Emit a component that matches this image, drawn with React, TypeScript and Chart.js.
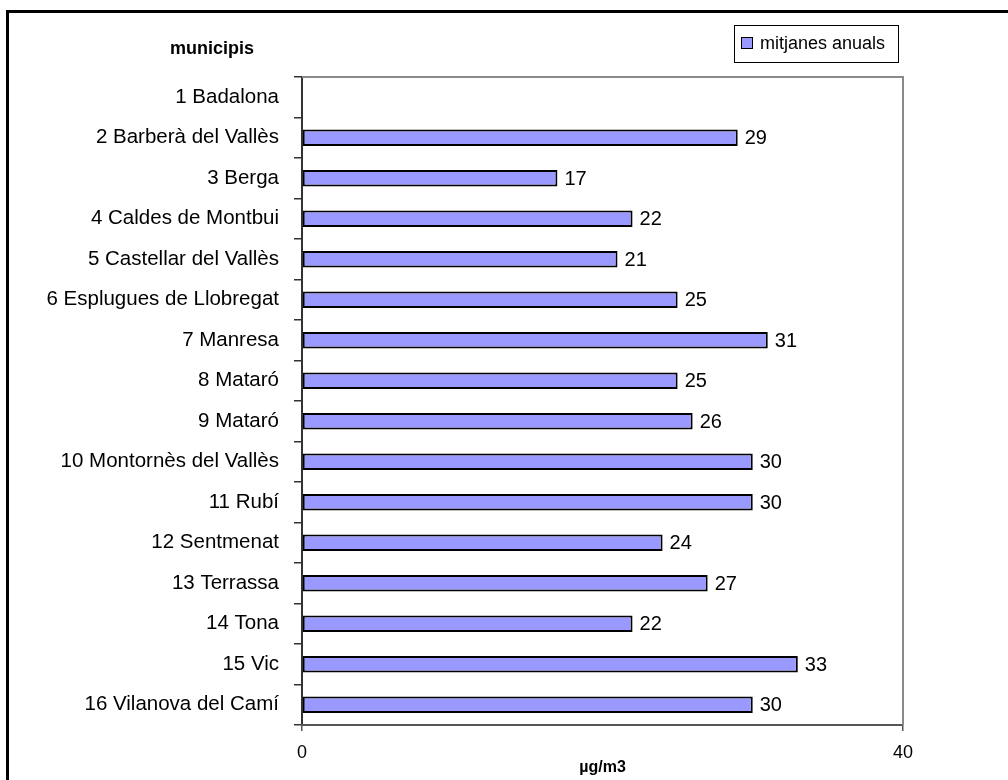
import React, { useEffect, useRef } from "react";
import { Chart, registerables } from "chart.js";

Chart.register(...registerables);

const categories: string[] = [
  "1 Badalona",
  "2 Barberà del Vallès",
  "3 Berga",
  "4 Caldes de Montbui",
  "5 Castellar del Vallès",
  "6 Esplugues de Llobregat",
  "7 Manresa",
  "8 Mataró",
  "9 Mataró",
  "10 Montornès del Vallès",
  "11 Rubí",
  "12 Sentmenat",
  "13 Terrassa",
  "14 Tona",
  "15 Vic",
  "16 Vilanova del Camí",
];

const annualMeans: (number | null)[] = [
  null, 29, 17, 22, 21, 25, 31, 25, 26, 30, 30, 24, 27, 22, 33, 30,
];

const xTicks: number[] = [0, 40];
const seriesLabel = "mitjanes anuals";
const yTitle = "municipis";
const xTitle = "µg/m3";

const FONT = "'Liberation Sans', Arial, sans-serif";
const BAR_COLOR = "#9999FF";

const extrasPlugin = {
  id: "extras",
  beforeDatasetsDraw(chart: any) {
    const { ctx, chartArea } = chart;
    ctx.save();
    ctx.strokeStyle = "#8a8a8a";
    ctx.lineWidth = 2;
    ctx.beginPath();
    ctx.moveTo(chartArea.left, chartArea.top);
    ctx.lineTo(chartArea.right, chartArea.top);
    ctx.lineTo(chartArea.right, chartArea.bottom);
    ctx.stroke();
    ctx.restore();
  },
  afterDatasetsDraw(chart: any) {
    const { ctx } = chart;
    const meta = chart.getDatasetMeta(0);
    ctx.save();
    ctx.fillStyle = "#000";
    ctx.font = `20px ${FONT}`;
    ctx.textAlign = "left";
    ctx.textBaseline = "middle";
    meta.data.forEach((bar: any, i: number) => {
      const v = annualMeans[i];
      if (v === null || v === undefined) return;
      ctx.fillText(String(v), bar.x + 7, bar.y + 1);
    });
    ctx.restore();
  },
  afterDraw(chart: any) {
    const { ctx } = chart;
    ctx.save();
    ctx.fillStyle = "#000";
    ctx.font = `bold 18px ${FONT}`;
    ctx.textAlign = "center";
    ctx.textBaseline = "middle";
    ctx.fillText(yTitle, 212, 49);
    ctx.strokeStyle = "#000";
    ctx.lineWidth = 1;
    ctx.fillStyle = "#fff";
    ctx.fillRect(734.5, 25.5, 164, 37);
    ctx.strokeRect(734.5, 25.5, 164, 37);
    ctx.fillStyle = BAR_COLOR;
    ctx.fillRect(741.5, 37.5, 11, 11);
    ctx.strokeRect(741.5, 37.5, 11, 11);
    ctx.fillStyle = "#000";
    ctx.font = `18px ${FONT}`;
    ctx.textAlign = "left";
    ctx.fillText(seriesLabel, 760, 44);
    ctx.restore();
  },
};

export default function App() {
  const canvasRef = useRef<HTMLCanvasElement | null>(null);

  useEffect(() => {
    if (!canvasRef.current) return;
    const chart = new Chart(canvasRef.current, {
      type: "bar",
      data: {
        labels: categories,
        datasets: [
          {
            label: seriesLabel,
            data: annualMeans,
            backgroundColor: BAR_COLOR,
            borderColor: "#000",
            borderWidth: 2,
            borderSkipped: false,
            barPercentage: 0.8,
            categoryPercentage: 0.51,
          },
        ],
      },
      options: {
        indexAxis: "y",
        responsive: false,
        animation: false,
        maintainAspectRatio: false,
        layout: { padding: { left: 0, right: 105, top: 77, bottom: 0 } },
        plugins: {
          legend: { display: false },
          tooltip: { enabled: false },
          title: { display: false },
        },
        scales: {
          y: {
            type: "category",
            offset: true,
            grid: {
              display: true,
              drawOnChartArea: false,
              offset: true,
              tickLength: 8,
              color: "#333",
              lineWidth: 1.5,
            },
            border: { display: true, color: "#333", width: 2 },
            ticks: {
              color: "#000",
              font: { family: FONT, size: 20.5 },
              padding: 15,
              autoSkip: false,
            },
            afterFit(scale: any) {
              scale.width = 302;
            },
          },
          x: {
            type: "linear",
            min: xTicks[0],
            max: xTicks[xTicks.length - 1],
            afterBuildTicks(scale: any) {
              scale.ticks = xTicks.map((v) => ({ value: v }));
            },
            grid: {
              display: true,
              drawOnChartArea: false,
              tickLength: 6,
              color: "#555",
              lineWidth: 1.5,
            },
            border: { display: true, color: "#555", width: 2 },
            ticks: {
              color: "#000",
              font: { family: FONT, size: 18 },
              padding: 11,
            },
            title: {
              display: true,
              text: xTitle,
              color: "#000",
              font: { family: FONT, size: 16, weight: "bold" },
              padding: { top: 0, bottom: 3 },
            },
            afterFit(scale: any) {
              scale.height = 55;
            },
          },
        },
      },
      plugins: [extrasPlugin],
    } as any);
    return () => chart.destroy();
  }, []);

  return (
    <div
      style={{
        position: "fixed",
        left: 0,
        top: 0,
        width: 1008,
        height: 780,
        overflow: "hidden",
        background: "#fff",
      }}
    >
      <canvas
        ref={canvasRef}
        width={1008}
        height={780}
        style={{ position: "absolute", left: 0, top: 0, width: 1008, height: 780 }}
      />
      <div
        style={{
          position: "absolute",
          left: 6,
          top: 10,
          width: 1100,
          height: 900,
          border: "3px solid #000",
          pointerEvents: "none",
        }}
      />
    </div>
  );
}
